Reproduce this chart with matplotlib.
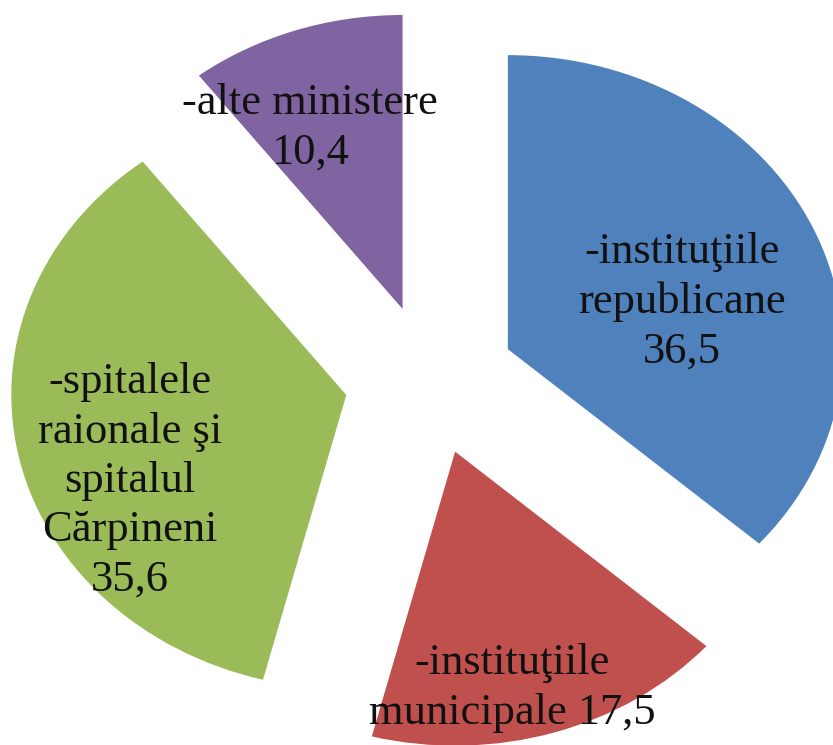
import matplotlib.pyplot as plt

# Structure of the hospitals (share, %)
labels = ["-instituţiile\nrepublicane\n36,5",
          "-instituţiile\nmunicipale 17,5",
          "-spitalele\nraionale şi\nspitalul\nCărpineni\n35,6",
          "-alte ministere\n10,4"]
values = [36.5, 17.5, 35.6, 10.4]
colors = ["#4F81BD", "#C0504D", "#9BBB59", "#8064A2"]

# where each label block sits (data units of the pie)
label_pos = [(0.752, 0.265), (0.245, -1.048), (-0.896, -0.343), (-0.358, 0.857)]

fig = plt.figure(figsize=(8.33, 7.45), dpi=100)
ax = fig.add_axes([0, 0, 1, 1])

ax.pie(values, colors=colors, startangle=90, counterclock=False,
       explode=[0.255] * len(values), radius=1.0,
       wedgeprops=dict(linewidth=0))

# pie is a bit wider than tall
ax.set_aspect("auto")
ax.set_xlim(-1.2836, 1.203)
ax.set_ylim(-1.2415, 1.2925)
ax.axis("off")

for txt, (x, y) in zip(labels, label_pos):
    ax.text(x, y, txt, ha="center", va="center", fontsize=32,
            family="Liberation Serif", color="#111111", linespacing=1.3)

fig.savefig("out.png", dpi=100, facecolor="white")
